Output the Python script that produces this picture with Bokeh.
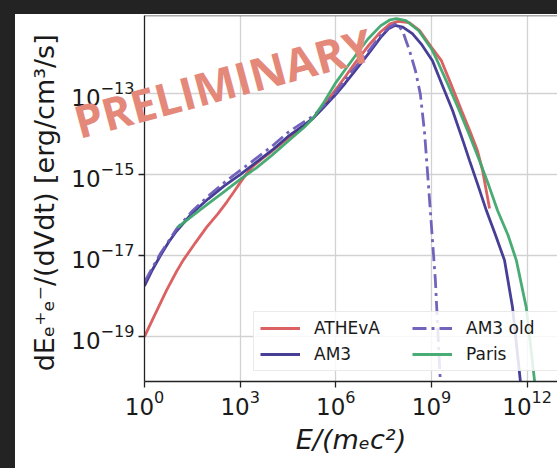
import numpy as np
from bokeh.plotting import figure
from bokeh.models import Range1d, FixedTicker, Legend, LegendItem, Span, Spacer, Div
from bokeh.layouts import column, row
from bokeh.embed import file_html
from bokeh.resources import INLINE

# ---- data: log10(E/(m_e c^2)) and log10(dE/(dVdt) [erg/cm^3/s]) ----
athena_logE = [0.0, 0.3, 0.69, 1.0, 1.21, 1.6, 1.95, 2.3, 2.58, 2.8, 3.0, 3.2, 3.4, 3.7, 4.0,
               4.5, 5.0, 5.3, 5.6, 6.0, 6.3, 6.6, 7.0, 7.4, 7.7, 7.95, 8.3, 8.62, 9.0, 9.31,
               9.6, 9.94, 10.2, 10.44, 10.6, 10.82]
athena_logY = [-19.0, -18.5, -17.86, -17.4, -17.12, -16.68, -16.3, -15.97, -15.68, -15.43,
               -15.2, -14.98, -14.8, -14.6, -14.42, -14.1, -13.8, -13.6, -13.32, -12.9,
               -12.58, -12.25, -11.84, -11.48, -11.28, -11.22, -11.25, -11.44, -11.86,
               -12.19, -12.75, -13.42, -13.92, -14.41, -14.9, -15.84]

am3_logE = [0.0, 0.25, 0.5, 0.75, 1.0, 1.5, 2.0, 2.5, 3.0, 3.5, 4.0, 4.5, 5.0, 5.3, 5.6,
            6.0, 6.3, 6.6, 7.0, 7.4, 7.65, 7.85, 8.1, 8.4, 8.7, 9.03, 9.3, 9.66, 10.0,
            10.19, 10.45, 10.72, 11.0, 11.29, 11.54, 11.76, 11.84]
am3_logY = [-17.75, -17.35, -17.0, -16.68, -16.4, -15.95, -15.6, -15.28, -15.0, -14.7,
            -14.4, -14.06, -13.78, -13.6, -13.36, -13.02, -12.74, -12.44, -12.04, -11.62,
            -11.4, -11.32, -11.36, -11.52, -11.8, -12.19, -12.72, -13.42, -14.2, -14.65,
            -15.25, -15.89, -16.48, -17.12, -18.28, -19.91, -20.5]

am3old_logE = [0.0, 0.5, 1.0, 1.5, 2.0, 2.5, 3.0, 3.5, 4.0, 4.5, 5.0, 5.3, 5.6, 6.0, 6.3,
               6.6, 7.0, 7.4, 7.7, 7.9, 8.09, 8.31, 8.5, 8.65, 8.78, 8.88, 9.0, 9.12, 9.22,
               9.3]
am3old_logY = [-17.65, -16.95, -16.35, -15.9, -15.53, -15.2, -14.9, -14.6, -14.3, -13.96,
               -13.7, -13.55, -13.32, -12.97, -12.66, -12.36, -11.98, -11.57, -11.35,
               -11.27, -11.45, -11.94, -12.45, -13.02, -13.95, -15.0, -16.3, -17.6, -19.2,
               -20.5]

paris_logE = [1.03, 1.5, 2.0, 2.5, 3.0, 3.5, 4.0, 4.5, 5.0, 5.3, 5.6, 6.0, 6.3, 6.6, 7.0,
              7.4, 7.7, 7.9, 8.2, 8.6, 9.0, 9.18, 9.5, 9.87, 10.2, 10.5, 10.8, 11.07, 11.4,
              11.66, 11.97, 12.23, 12.28]
paris_logY = [-16.31, -16.02, -15.72, -15.42, -15.12, -14.84, -14.52, -14.18, -13.84,
              -13.6, -13.25, -12.73, -12.4, -12.08, -11.66, -11.33, -11.18, -11.15, -11.2,
              -11.45, -11.9, -12.19, -12.75, -13.42, -14.05, -14.65, -15.28, -15.89,
              -16.5, -17.12, -18.28, -20.09, -20.5]

x_ticks = [1e0, 1e3, 1e6, 1e9, 1e12]
y_ticks = [1e-19, 1e-17, 1e-15, 1e-13]

series_names = ["ATHEvA", "AM3", "AM3 old", "Paris"]
series_colors = ["#d9585a", "#3d3490", "#6a5cb8", "#3fa86e"]
watermark_text = "PRELIMINARY"

FONT = "DejaVu Sans"
DARK = "#232323"

p = figure(width=542, height=454, x_axis_type="log", y_axis_type="log",
           x_range=Range1d(10 ** 0, 10 ** 12.95),
           y_range=Range1d(10 ** -20.11, 10 ** -11.074),
           output_backend="svg", toolbar_location=None,
           min_border_left=129, min_border_right=0, min_border_top=1, min_border_bottom=87)
p.background_fill_color = "white"
p.border_fill_color = "white"
p.outline_line_color = None

for ax, ticks in ((p.xaxis[0], x_ticks), (p.yaxis[0], y_ticks)):
    ax.ticker = FixedTicker(ticks=ticks, minor_ticks=[])
    ax.major_label_text_font = FONT
    ax.major_label_text_font_size = "23px"
    ax.major_label_text_color = "#1a1a1a"
    ax.axis_line_color = "#222222"
    ax.axis_line_width = 1.3
    ax.major_tick_line_color = "#222222"
    ax.major_tick_line_width = 1.3
    ax.major_tick_out = 6
    ax.major_tick_in = 0
    ax.minor_tick_out = 0
    ax.minor_tick_in = 0
    ax.axis_label_text_font = FONT
    ax.axis_label_text_color = "#1a1a1a"
    ax.axis_label_text_font_size = "27px"

p.xaxis.axis_label = "E/(mₑc²)"
p.xaxis.axis_label_text_font_style = "italic"
p.xaxis.major_label_standoff = 2
p.xaxis.axis_label_standoff = 6
p.yaxis.axis_label = "dEₑ⁺ₑ⁻/(dVdt)  [erg/cm³/s]"
p.yaxis.axis_label_text_font_style = "normal"
p.yaxis.major_label_standoff = 4
p.yaxis.axis_label_standoff = 8

p.xgrid.ticker = FixedTicker(ticks=x_ticks, minor_ticks=[])
p.ygrid.ticker = FixedTicker(ticks=y_ticks, minor_ticks=[])
for g in (p.xgrid[0], p.ygrid[0]):
    g.grid_line_color = "#d2d2d2"
    g.grid_line_width = 1.3

top_line = Span(location=10 ** -11.074, dimension="width", line_color="#555555", line_width=1.3)
p.add_layout(top_line)

def to_lin(vals):
    return 10 ** np.array(vals, dtype=float)

r_ath = p.line(to_lin(athena_logE), to_lin(athena_logY), line_color=series_colors[0],
               line_width=2.8, line_alpha=0.95)
r_am3 = p.line(to_lin(am3_logE), to_lin(am3_logY), line_color=series_colors[1],
               line_width=2.8, line_alpha=0.95)
r_old = p.line(to_lin(am3old_logE), to_lin(am3old_logY), line_color=series_colors[2],
               line_width=2.8, line_alpha=0.95, line_dash="14 5 3 5")
r_par = p.line(to_lin(paris_logE), to_lin(paris_logY), line_color=series_colors[3],
               line_width=2.8, line_alpha=0.95)

legend = Legend(items=[LegendItem(label=series_names[0], renderers=[r_ath]),
                       LegendItem(label=series_names[1], renderers=[r_am3]),
                       LegendItem(label=series_names[2], renderers=[r_old]),
                       LegendItem(label=series_names[3], renderers=[r_par])],
                location=(109, 10), orientation="vertical", ncols=2,
                label_text_font=FONT, label_text_font_size="17px", label_text_color="#1a1a1a",
                glyph_width=40, glyph_height=20, label_standoff=14, label_width=92,
                spacing=6, padding=6, margin=0,
                border_line_color="#d5d5d5", border_line_width=1.2,
                background_fill_color="white", background_fill_alpha=0.85)
p.add_layout(legend)

# watermark drawn over the plot (not clipped to the frame, as in the original)
wm_style = ("font-family:'Open Sans',sans-serif;font-weight:bold;font-size:45px;"
            "color:#e4887a;white-space:nowrap;line-height:64px;display:block;text-align:center;")
watermark = Div(text=f'<span style="{wm_style}">{watermark_text}</span>', width=360, height=64,
                styles={"position": "absolute", "left": "38px", "top": "46px",
                        "transform": "rotate(-15deg)", "transform-origin": "50% 50%",
                        "z-index": "10", "pointer-events": "none", "text-align": "center"})

top_bar = Spacer(width=557, height=14, styles={"background-color": DARK})
left_bar = Spacer(width=15, height=454, styles={"background-color": DARK})
layout = column(top_bar, row(left_bar, p, spacing=0), watermark, spacing=0)

open("out.html", "w").write(file_html(layout, INLINE))
